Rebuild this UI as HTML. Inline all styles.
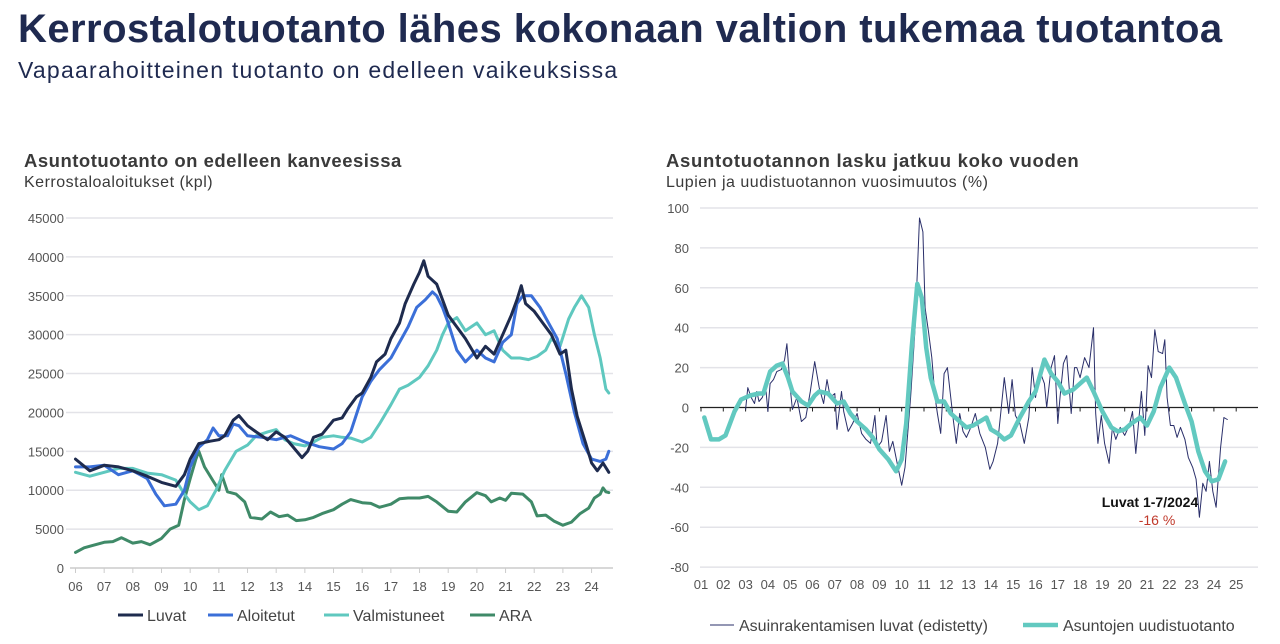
<!DOCTYPE html>
<html><head><meta charset="utf-8">
<style>
body{margin:0;width:1280px;height:644px;background:#fff;font-family:"Liberation Sans",sans-serif;overflow:hidden;position:relative}
.t{position:absolute;white-space:nowrap}
</style></head><body>
<div class="t" style="left:18px;top:7px;font-size:40px;font-weight:bold;color:#1f2a50;letter-spacing:0.45px">Kerrostalotuotanto lähes kokonaan valtion tukemaa tuotantoa</div>
<div class="t" style="left:18px;top:57px;font-size:23px;color:#1f2a50;letter-spacing:1.25px">Vapaarahoitteinen tuotanto on edelleen vaikeuksissa</div>
<div class="t" style="left:24px;top:150px;font-size:18.5px;font-weight:bold;color:#3a3a3a;letter-spacing:0.5px">Asuntotuotanto on edelleen kanveesissa</div>
<div class="t" style="left:24px;top:174px;font-size:16px;color:#3a3a3a;letter-spacing:0.5px">Kerrostaloaloitukset (kpl)</div>
<div class="t" style="left:666px;top:150px;font-size:18.5px;font-weight:bold;color:#3a3a3a;letter-spacing:0.7px">Asuntotuotannon lasku jatkuu koko vuoden</div>
<div class="t" style="left:666px;top:174px;font-size:16px;color:#3a3a3a;letter-spacing:0.5px">Lupien ja uudistuotannon vuosimuutos (%)</div>
<svg id="c" width="1280" height="644" style="position:absolute;left:0;top:0"></svg>
<script>
// ---------- Left chart data ----------
const leftYTicks=[0,5000,10000,15000,20000,25000,30000,35000,40000,45000];
const leftXLabels=["06","07","08","09","10","11","12","13","14","15","16","17","18","19","20","21","22","23","24"];
const luvatX=[6,6.5,7,7.5,8,8.5,9,9.5,9.8,10,10.3,10.7,11,11.2,11.5,11.7,12,12.3,12.7,13,13.3,13.6,13.9,14.1,14.3,14.6,15,15.3,15.5,15.8,16,16.3,16.5,16.8,17,17.3,17.5,17.8,18,18.15,18.3,18.6,18.8,19,19.3,19.6,20,20.3,20.6,20.9,21.2,21.4,21.55,21.7,22,22.3,22.6,22.9,23.1,23.3,23.5,23.8,24,24.2,24.4,24.6];
const luvatY=[14000,12500,13200,13000,12500,11800,11000,10500,12000,14000,16000,16300,16500,17000,19000,19600,18300,17500,16500,17500,16800,15500,14200,15000,16800,17200,19000,19300,20500,22000,22500,24500,26500,27500,29500,31500,34000,36500,38000,39500,37500,36500,34500,32500,31000,29500,27000,28500,27500,30000,32500,34500,36300,34000,33000,31500,30000,27500,28000,23000,19500,16000,13500,12500,13500,12300];
const aloitX=[6,6.5,7,7.5,8,8.5,8.8,9.1,9.5,9.8,10,10.3,10.6,10.8,11,11.3,11.5,11.7,12,12.5,13,13.5,14,14.5,15,15.3,15.6,16,16.3,16.6,17,17.3,17.6,17.9,18.2,18.45,18.6,18.8,19,19.3,19.6,20,20.3,20.6,20.9,21.2,21.4,21.6,21.9,22.2,22.5,22.8,23.1,23.4,23.7,24,24.3,24.5,24.6];
const aloitY=[13000,13000,13200,12000,12500,11500,9500,8000,8200,10000,13000,15500,16500,18000,17000,17000,18500,18300,17000,16800,16500,17000,16200,15600,15300,16000,17500,22000,24000,25500,27000,29000,31000,33500,34500,35500,35000,33500,31500,28000,26500,28000,27000,26500,29000,30000,34000,35000,35000,33500,31500,29500,25000,20000,16000,14000,13700,14000,15000];
const valmX=[6,6.5,7,7.5,8,8.5,9,9.5,9.8,10,10.3,10.6,10.9,11.2,11.6,12,12.3,12.7,13,13.3,13.6,14,14.3,14.6,15,15.3,15.6,16,16.3,16.6,17,17.3,17.6,18,18.3,18.6,18.8,19,19.3,19.6,20,20.3,20.6,20.9,21.2,21.5,21.8,22.1,22.4,22.6,22.9,23.2,23.4,23.65,23.9,24.1,24.3,24.5,24.6];
const valmY=[12300,11800,12300,12800,12800,12200,12000,11300,9500,8500,7500,8000,10000,12500,15000,15800,17000,17500,17800,16500,16000,15700,16200,16800,17000,16800,16700,16200,16800,18500,21000,23000,23500,24500,26000,28000,30000,31500,32200,30500,31500,30000,30500,28000,27000,27000,26800,27200,28000,29500,28500,32000,33500,35000,33500,30000,27000,23000,22500];
const araX=[6,6.3,6.6,7,7.3,7.6,8,8.3,8.6,9,9.3,9.6,9.8,10,10.2,10.3,10.5,10.8,11,11.1,11.3,11.6,11.9,12.1,12.5,12.8,13.1,13.4,13.7,14,14.3,14.6,15,15.3,15.6,16,16.3,16.6,17,17.3,17.6,18,18.3,18.6,19,19.3,19.6,20,20.3,20.5,20.8,21,21.2,21.6,21.9,22.1,22.4,22.7,23,23.3,23.6,23.9,24.1,24.3,24.4,24.5,24.6];
const araY=[2000,2600,2900,3300,3400,3900,3200,3400,3000,3800,5000,5500,8800,11500,14000,15000,13000,11200,10000,12000,9800,9500,8500,6500,6300,7200,6600,6800,6100,6200,6500,7000,7500,8200,8800,8400,8300,7800,8200,8900,9000,9000,9200,8500,7300,7200,8500,9700,9300,8500,9000,8700,9600,9500,8500,6700,6800,6000,5500,5900,7000,7700,9000,9500,10300,9800,9700];
// ---------- Right chart data ----------
const rightYTicks=[-80,-60,-40,-20,0,20,40,60,80,100];
const rightXLabels=["01","02","03","04","05","06","07","08","09","10","11","12","13","14","15","16","17","18","19","20","21","22","23","24","25"];
const lupaX=[3.0,3.1,3.25,3.4,3.5,3.6,3.75,3.9,4.0,4.1,4.25,4.4,4.6,4.75,4.85,5.0,5.1,5.3,5.5,5.7,5.9,6.1,6.3,6.5,6.65,6.8,7.0,7.1,7.3,7.4,7.6,7.8,8.0,8.2,8.4,8.6,8.8,8.9,9.1,9.3,9.45,9.6,9.8,10.0,10.15,10.4,10.6,10.8,10.95,11.05,11.2,11.35,11.5,11.6,11.75,11.9,12.05,12.3,12.45,12.6,12.75,12.9,13.1,13.3,13.5,13.75,13.95,14.1,14.3,14.45,14.6,14.8,14.95,15.1,15.3,15.5,15.7,15.85,16.0,16.2,16.4,16.5,16.7,16.85,17.0,17.1,17.25,17.4,17.6,17.75,17.85,18.0,18.2,18.4,18.6,18.7,18.8,18.95,19.1,19.3,19.45,19.6,19.8,20.0,20.2,20.35,20.5,20.65,20.75,20.9,21.05,21.2,21.35,21.5,21.7,21.8,21.9,22.05,22.2,22.35,22.5,22.7,22.85,23.05,23.2,23.35,23.5,23.65,23.8,23.95,24.1,24.3,24.45,24.6];
const lupaY=[-1,10,5,2,8,3,5,10,-2,12,14,18,19,24,32,10,-1,5,-7,-5,8,23,10,2,14,5,7,-11,8,-2,-12,-8,-3,-13,-16,-18,-4,-20,-17,-4,-22,-17,-28,-39,-30,5,40,95,88,50,38,25,5,-3,-13,17,20,-5,-18,-3,-12,-15,-10,-3,-13,-20,-31,-27,-18,-2,15,-3,14,-4,-8,-18,-5,20,5,18,12,0,20,26,-8,5,22,26,-3,20,20,15,25,20,40,-3,-18,-4,-18,-28,-10,-16,-10,-14,-9,-2,-23,-4,8,-14,21,15,39,28,27,34,5,-9,-9,-15,-10,-16,-25,-30,-36,-55,-38,-42,-27,-42,-50,-20,-5,-6];
const uudX=[1.15,1.45,1.8,2.1,2.5,2.8,3.2,3.6,3.8,4.1,4.4,4.65,4.9,5.1,5.5,5.8,6.1,6.3,6.7,7.1,7.4,7.7,8.0,8.4,8.7,9.0,9.4,9.75,10.0,10.2,10.45,10.7,10.9,11.1,11.3,11.6,11.9,12.2,12.6,12.9,13.2,13.5,13.8,14.0,14.3,14.6,14.9,15.3,15.7,16.0,16.4,16.7,17.0,17.3,17.7,18.1,18.3,18.6,19.0,19.4,19.7,20.0,20.3,20.7,21.0,21.3,21.6,22.0,22.3,22.7,23.0,23.3,23.6,23.9,24.2,24.5];
const uudY=[-5,-16,-16,-14,-2,4,6,7,7,18,21,22,15,8,3,1,6,8,7,2,3,-3,-7,-11,-15,-21,-26,-32,-26,-8,30,62,55,30,15,3,3,-3,-7,-10,-9,-7,-5,-11,-13,-16,-14,-5,3,8,24,17,13,7,9,13,15,8,-2,-10,-12,-11,-8,-5,-9,-2,10,20,15,2,-7,-22,-32,-37,-36,-27];

const svg=document.getElementById('c');
const NS='http://www.w3.org/2000/svg';
function mk(tag,attrs,parent){const e=document.createElementNS(NS,tag);for(const k in attrs)e.setAttribute(k,attrs[k]);(parent||svg).appendChild(e);return e;}
function txt(x,y,s,anchor,size,fill,parent){const e=mk('text',{x:x,y:y,'text-anchor':anchor,'font-size':size,fill:fill,'font-family':'Liberation Sans, sans-serif'},parent);e.textContent=s;return e;}

const lx=y=>75.5+(y-6)*28.67;
const ly=v=>568-v/45000*350;
const gL=mk('g',{});


leftYTicks.forEach(v=>{
  if(v>0){const l=mk('line',{x1:66,x2:613,y1:ly(v),y2:ly(v),stroke:'#e3e3e8','stroke-width':1.5},gL);
  
  }
  const t=txt(64,ly(v)+5,String(v),'end',13,'#555',gL);
  
  
});
const la=mk('line',{x1:70,x2:613,y1:568,y2:568,stroke:'#ccc','stroke-width':1.5},gL);


leftXLabels.forEach((s,i)=>{
  const x=lx(6+i);
  mk('line',{x1:x,x2:x,y1:568,y2:573,stroke:'#ccc'},gL);
  const t=txt(x,591,s,'middle',13,'#555',gL);
  
  
});
function series(xs,ys,fx,fy,color,w,name,parent){
  const d=xs.map((x,i)=>(i?'L':'M')+fx(x).toFixed(1)+','+fy(ys[i]).toFixed(1)).join('');
  const p=mk('path',{d:d,fill:'none',stroke:color,'stroke-width':w,'stroke-linejoin':'round','stroke-linecap':'round'},parent);
  
  
}
series(araX,araY,lx,ly,'#3f8a68',3,'line-ara',gL);
series(valmX,valmY,lx,ly,'#5fc8bf',3,'line-valmistuneet',gL);
series(aloitX,aloitY,lx,ly,'#3b6fd8',3,'line-aloitetut',gL);
series(luvatX,luvatY,lx,ly,'#1e2b4e',3,'line-luvat',gL);
const legL=[["Luvat","#1e2b4e",118],["Aloitetut","#3b6fd8",208],["Valmistuneet","#5fc8bf",324],["ARA","#3f8a68",470]];
legL.forEach(([n,c,x])=>{
  const g=mk('g',{},gL);
  
  
  mk('line',{x1:x,x2:x+25,y1:615,y2:615,stroke:c,'stroke-width':3},g);
  txt(x+29,621,n,'start',16,'#444',g);
});

const rx=y=>701+(y-1)*22.3;
const ry=v=>407.5-v*1.995;
const gR=mk('g',{});


rightYTicks.forEach(v=>{
  if(v!==0){const l=mk('line',{x1:700,x2:1258,y1:ry(v),y2:ry(v),stroke:'#e3e3e8','stroke-width':1.5},gR);
  
  }
  const t=txt(689,ry(v)+5,String(v),'end',13,'#555',gR);
  
  
});
const za=mk('line',{x1:700,x2:1258,y1:ry(0),y2:ry(0),stroke:'#222','stroke-width':1.2},gR);


rightXLabels.forEach((s,i)=>{
  const x=rx(1+i);
  mk('line',{x1:x,x2:x,y1:ry(0),y2:ry(0)+4,stroke:'#222'},gR);
  const t=txt(x,589,s,'middle',13,'#555',gR);
  
  
});
series(lupaX,lupaY,rx,ry,'#2a2f6a',1,'line-asuinrakentamisen-luvat',gR);
series(uudX,uudY,rx,ry,'#62c9c0',4.5,'line-asuntojen-uudistuotanto',gR);
const an=txt(1150,507,'Luvat 1-7/2024','middle',14,'#111',gR);
an.setAttribute('font-weight','bold');


const an2=txt(1157,525,'-16 %','middle',14,'#c0392b',gR);


const g1=mk('g',{},gR);


mk('line',{x1:710,x2:734,y1:625,y2:625,stroke:'#2a2f6a','stroke-width':1},g1);
txt(739,631,'Asuinrakentamisen luvat (edistetty)','start',16,'#444',g1);
const g2=mk('g',{},gR);


mk('line',{x1:1023,x2:1058,y1:625,y2:625,stroke:'#62c9c0','stroke-width':4.5},g2);
txt(1063,631,'Asuntojen uudistuotanto','start',16,'#444',g2);
</script>
</body></html>
